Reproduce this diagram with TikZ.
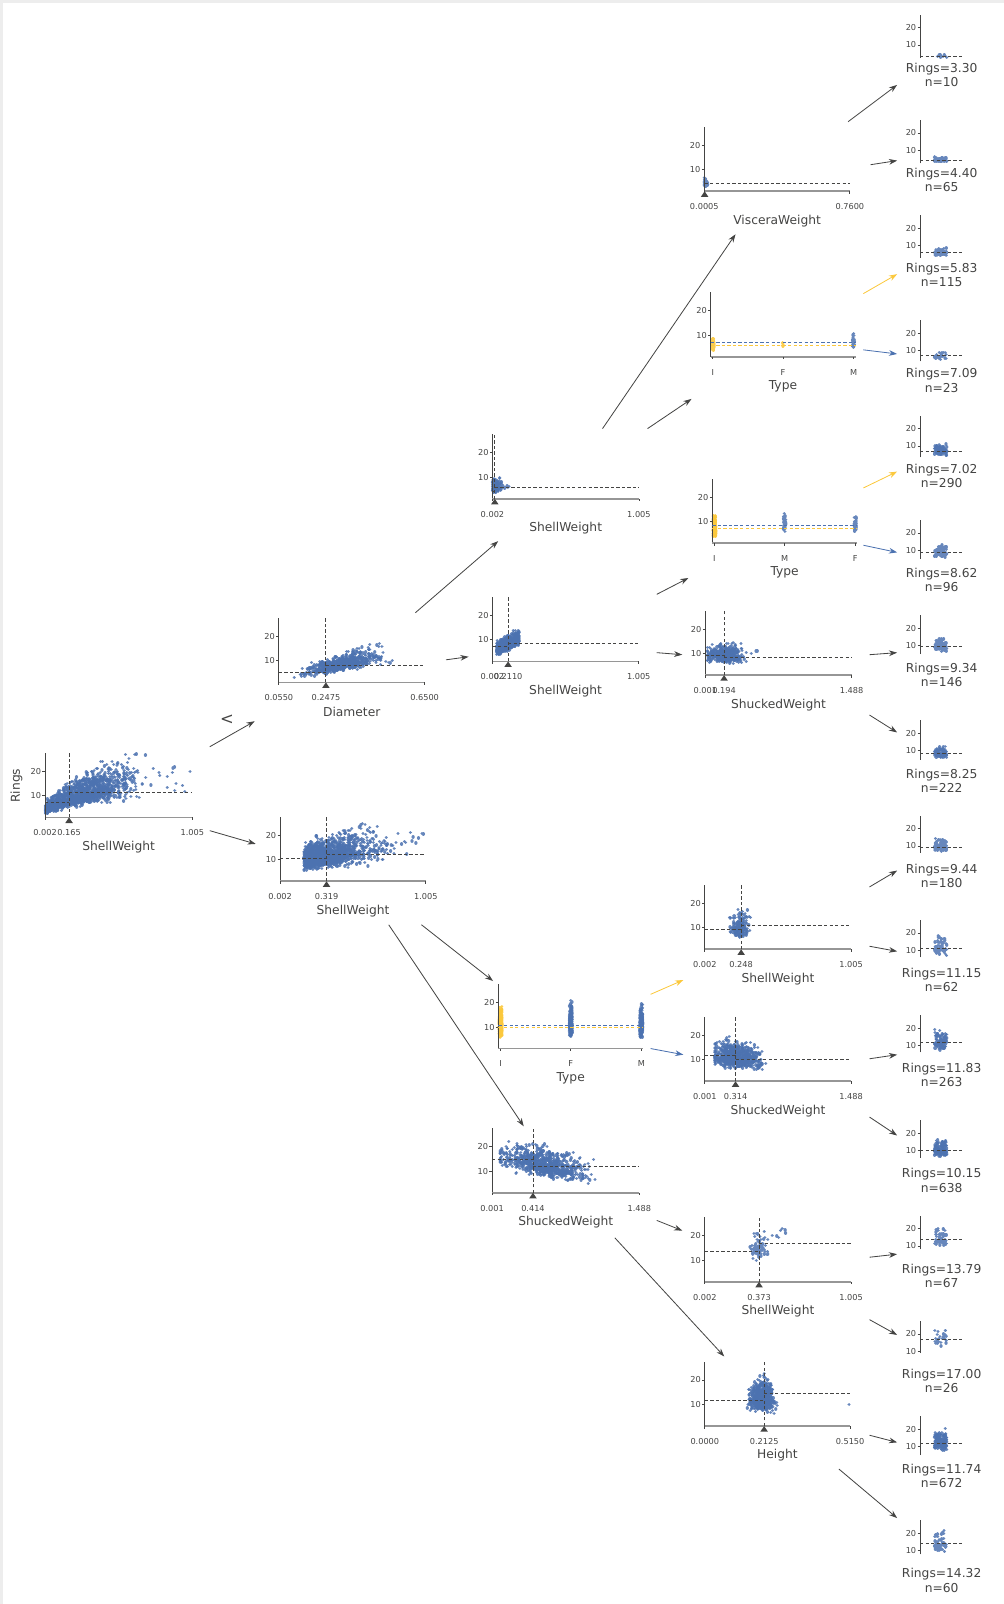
\documentclass[tikz,border=0pt]{standalone}
\usepackage{fontspec}
\setmainfont{DejaVu Sans}
\usepackage{xcolor}
\usepackage{tikz}
\usetikzlibrary{arrows.meta}

\definecolor{ptblue}{RGB}{76,114,176}
\definecolor{ptyellow}{RGB}{251,200,60}
\definecolor{txtgrey}{RGB}{68,68,67}
\definecolor{axgrey}{RGB}{150,150,150}

% scatter: #1 style, #2 points, #3 x offset, #4 value (may use \cx)
\newcommand{\cloud}[4][pt]{%
  \pgfmathtruncatemacro\nchunk{max(1,round(#2/80))}%
  \pgfmathtruncatemacro\nper{round(#2/\nchunk)}%
  \foreach \c in {1,...,\nchunk}{%
    \draw[#1] \foreach \k [evaluate={\k as \na using rand+rand+rand},
        evaluate={\k as \nb using rand+rand+rand},
        evaluate={\k as \nb using \nb+0.3*abs(\nb)},
        evaluate={\k as \cx using #3},
        evaluate={\k as \cv using #4}] in {1,...,\nper} {(\cx,\cv) -- ++(0.02,0)};}}

% id, width, split, left mean, right mean, low tick, split tick, high tick, feature
\newcommand{\splitaxes}[9]{%
  \draw[yax] (0,1.25) -- (0,27.5);
  \draw[xax] (0,1.25) -- (#2,1.25);
  \draw[yax] (0,1.25) -- (0,0.2) (#2,1.25) -- (#2,0.2);
  \foreach \t in {10,20}{\draw[yax] (-2.5,\t) -- (0,\t);
    \node[ticklbl,anchor=east] (#1-y\t) at (-3.5,\t) {\t};}
  \draw[meanline] (#3,1.25) -- (#3,27.5);
  \draw[meanline] (0,#4) -- (#3,#4);
  \draw[meanline] (#3,#5) -- (#2,#5);
  \fill[txtgrey] (#3,1.25) -- ++(-3.7,-2.3) -- ++(7.4,0) -- cycle;
  \node[ticklbl] (#1-t1) at (0,-5) {#6};
  \node[ticklbl] (#1-t2) at (#3,-5) {#7};
  \node[ticklbl] (#1-t3) at (#2,-5) {#8};
  \node[axlbl] (#1-lbl) at ({#2/2},-10.8) {#9};}

% id, categories, yellow mean, blue mean
\newcommand{\typeaxes}[6]{%
  \draw[yax] (0,1.25) -- (0,27.5);
  \draw[xax] (0,1.25) -- (141.5,1.25);
  \foreach \c in {2,70.6,139.6}{\draw[yax] (\c,1.25) -- (\c,0.2);}
  \foreach \t in {10,20}{\draw[yax] (-2.5,\t) -- (0,\t);
    \node[ticklbl,anchor=east] (#1-y\t) at (-3.5,\t) {\t};}
  \draw[meanline,draw=ptyellow] (0,#5) -- (141.5,#5);
  \draw[meanline,draw=ptblue] (0,#6) -- (141.5,#6);
  \node[ticklbl] (#1-c1) at (2,-5) {#2};
  \node[ticklbl] (#1-c2) at (70.6,-5) {#3};
  \node[ticklbl] (#1-c3) at (139.6,-5) {#4};
  \node[axlbl] (#1-lbl) at (70.6,-10.8) {Type};}

% id, mean, spread, points, lowest, n
\newcommand{\leafplot}[6]{%
  \begin{scope}[shift={(#1)},y={(0,0.85pt)}]
    \cloud{#4}{20+6*rand}{max(#5,min(27,#2+#3*\nb))}
    \draw[yax] (0,#5) -- (0,27.5);
    \foreach \t in {10,20}{\draw[yax] (-2.5,\t) -- (0,\t);
      \node[ticklbl,anchor=east] (#1-y\t) at (-3.5,\t) {\t};}
    \draw[meanline] (0,#2) -- (41,#2);
    \node[leaflbl] (#1-txt) at (21,-7.06) {Rings=#2\\n=#6};
  \end{scope}}

\begin{document}
\begin{tikzpicture}[x=0.5pt,y=-0.5pt]
        \tikzstyle{yax}=[draw=txtgrey,line width=0.4pt]
        \tikzstyle{xax}=[draw=axgrey,line width=0.8pt]
        \tikzstyle{meanline}=[draw=txtgrey,line width=0.45pt,dash pattern=on 1.6pt off 1.1pt]
        \tikzstyle{pt}=[draw=ptblue,draw opacity=0.85,line width=1.6pt,line cap=round]
        \tikzstyle{ptY}=[draw=ptyellow,draw opacity=0.9,line width=1.6pt,line cap=round]
        \tikzstyle{ticklbl}=[text=txtgrey,font=\fontsize{4}{4.8}\selectfont,inner sep=0pt]
        \tikzstyle{axlbl}=[text=txtgrey,font=\fontsize{6}{7.2}\selectfont,inner sep=0pt]
        \tikzstyle{leaflbl}=[text=txtgrey,font=\fontsize{6}{7}\selectfont,align=center,inner sep=0pt]
        \tikzstyle{edge}=[draw=txtgrey,line width=0.4pt,-{Stealth[length=4pt,width=2.8pt]}]

        \pgfmathsetseed{11}
        \useasboundingbox (0,0) rectangle (981,1568);
        \fill[black!7] (0,0) rectangle (981,3);
        \fill[black!7] (0,0) rectangle (2.5,1568);

        %% split nodes
        \coordinate (root) at (44,799);
        \coordinate (diam) at (272.6,667);
        \coordinate (swA) at (481.4,487.6);
        \coordinate (swB) at (481.4,646.5);
        \coordinate (visc) at (688.5,187);
        \coordinate (typeA) at (694.8,348.8);
        \coordinate (typeB) at (696.4,530.9);
        \coordinate (shkA) at (689.5,659.9);
        \coordinate (swC) at (273.9,861.5);
        \coordinate (typeC) at (487.3,1025);
        \coordinate (shkB) at (481,1166);
        \coordinate (swD) at (689,928);
        \coordinate (shkC) at (689,1057);
        \coordinate (swE) at (689,1253);
        \coordinate (hgt) at (689,1394);

        \begin{scope}[shift={(root)},yshift=-1.5pt,y={(0,1.2pt)}]
            \cloud{1400}{min(143,max(0.5,143*abs(0.23+0.17*\na)))}{max(1.6,min(27,4.5+0.19*\cx-0.0007*\cx*\cx+(1.2+0.04*\cx)*\nb))}
            \cloud{14}{100+42*rnd}{16+6*rand}
            \splitaxes{root}{144}{23.5}{7.46}{11.2}{0.002}{0.165}{1.005}{ShellWeight}
        \end{scope}
        \node[axlbl,rotate=90] (rings) at (16,768) {Rings};

        \begin{scope}[shift={(diam)},yshift=-1.5pt,y={(0,1.2pt)}]
            \cloud{700}{min(112,max(6,60+17*\na))}{max(2,2.8+0.09*\cx+(0.7+0.014*\cx)*\nb)}
            \cloud{4}{104+10*rnd}{9.5+0.8*rand}
            \splitaxes{diam}{142.5}{46}{5.41}{8.04}{0.0550}{0.2475}{0.6500}{Diameter}
        \end{scope}

        \begin{scope}[shift={(swA)},yshift=-1.5pt,y={(0,1.2pt)}]
            \cloud{200}{abs(3+2.5*\na)}{max(2.5,min(11,6+1.3*\nb))}
            \cloud{5}{10+8*rnd}{6+0.6*rand}
            \splitaxes{swA}{143.2}{2.3}{4.25}{6.04}{0.002}{}{1.005}{ShellWeight}
        \end{scope}

        \begin{scope}[shift={(swB)},yshift=-1.5pt,y={(0,1.2pt)}]
            \cloud{700}{4+22*rnd}{max(4,min(16,5+0.2*\cx+1.4*\nb))}
            \splitaxes{swB}{143}{15.3}{7.42}{8.68}{0.002}{0.2110}{1.005}{ShellWeight}
        \end{scope}

        \begin{scope}[shift={(visc)},yshift=-1.5pt,y={(0,1.2pt)}]
            \cloud{75}{abs(1.3+0.9*\na)}{max(2,4.4+0.8*\nb)}
            \splitaxes{visc}{142.3}{0.3}{3.30}{4.40}{0.0005}{}{0.7600}{VisceraWeight}
        \end{scope}

        \begin{scope}[shift={(typeA)},yshift=-1.5pt,y={(0,1.2pt)}]
            \cloud[ptY]{115}{2+1.2*rand}{max(3.5,min(9.5,5.8+1.1*\nb))}
            \cloud[ptY]{6}{70.6+1*rand}{6+0.4*\nb}
            \cloud{23}{139.6+1.2*rand}{max(4,min(11.5,7.1+1.4*\nb))}
            \typeaxes{typeA}{I}{F}{M}{5.83}{7.09}
        \end{scope}

        \begin{scope}[shift={(typeB)},yshift=-1.5pt,y={(0,1.2pt)}]
            \cloud[ptY]{290}{2+1.2*rand}{max(3.5,min(14,7+1.7*\nb))}
            \cloud{55}{70.6+1.2*rand}{max(5,min(15,9+1.7*\nb))}
            \cloud{50}{139.6+1.2*rand}{max(5,min(12,8.2+1.4*\nb))}
            \typeaxes{typeB}{I}{M}{F}{7.02}{8.62}
        \end{scope}

        \begin{scope}[shift={(shkA)},yshift=-1.5pt,y={(0,1.2pt)}]
            \cloud{500}{min(40,max(2,19+8*\na))}{max(5,min(16.5,9+1.6*\nb))}
            \cloud{3}{43+8*rnd}{10.5+0.6*rand}
            \splitaxes{shkA}{143}{18.3}{9.34}{8.25}{0.001}{0.194}{1.488}{ShuckedWeight}
        \end{scope}

        \begin{scope}[shift={(swC)},yshift=-1.5pt,y={(0,1.2pt)}]
            \cloud{1400}{min(142,23+abs(32*\na))}{max(5,min(27,8.3+0.065*\cx+(1.8+0.022*\cx)*\nb))}
            \cloud{16}{90+50*rnd}{17+5*rand}
            \splitaxes{swC}{142.4}{45.3}{10.44}{12.26}{0.002}{0.319}{1.005}{ShellWeight}
        \end{scope}

        \begin{scope}[shift={(typeC)},yshift=-1.5pt,y={(0,1.2pt)}]
            \cloud[ptY]{340}{2+1.3*rand}{max(5.5,min(21,9.9+2.4*\nb))}
            \cloud{340}{70.6+1.3*rand}{max(6,min(23,10.8+2.7*\nb))}
            \cloud{340}{139.6+1.3*rand}{max(6,min(23,10.5+2.7*\nb))}
            \typeaxes{typeC}{I}{F}{M}{9.88}{10.64}
        \end{scope}

        \begin{scope}[shift={(shkB)},yshift=-1.5pt,y={(0,1.2pt)}]
            \cloud{820}{min(118,max(8,50+19*\na))}{max(5,min(26,16.5-0.085*\cx+2.6*\nb))}
            \cloud{2}{6+113*rnd}{9+2*rand}
            \splitaxes{shkB}{144}{40}{14.69}{11.95}{0.001}{0.414}{1.488}{ShuckedWeight}
        \end{scope}

        \begin{scope}[shift={(swD)},yshift=-1.5pt,y={(0,1.2pt)}]
            \cloud{240}{min(46,max(22,34+4*\na))}{max(6,min(23,9.9+2.3*\nb))}
            \splitaxes{swD}{143}{35.5}{9.44}{11.15}{0.002}{0.248}{1.005}{ShellWeight}
        \end{scope}

        \begin{scope}[shift={(shkC)},yshift=-1.5pt,y={(0,1.2pt)}]
            \cloud{880}{max(10,min(72,30+11*\na))}{max(6,min(25,11.8-0.045*\cx+2.4*\nb))}
            \splitaxes{shkC}{143}{30}{11.83}{10.15}{0.001}{0.314}{1.488}{ShuckedWeight}
        \end{scope}

        \begin{scope}[shift={(swE)},yshift=-1.5pt,y={(0,1.2pt)}]
            \cloud{85}{max(42,52+3.5*\na)}{max(8,min(24,14.5+2.6*\nb))}
            \cloud{7}{60+22*rnd}{19.5+4*rand}
            \splitaxes{swE}{143}{53}{13.79}{17.00}{0.002}{0.373}{1.005}{ShellWeight}
        \end{scope}

        \begin{scope}[shift={(hgt)},yshift=-1.5pt,y={(0,1.2pt)}]
            \cloud{730}{min(72,max(33,56+5.5*\na))}{max(5,min(26,12+2.9*\nb))}
            \cloud{1}{141}{10}
            \splitaxes{hgt}{142}{58}{11.74}{14.32}{0.0000}{0.2125}{0.5150}{Height}
        \end{scope}

        %% leaves
        \foreach \i/\y in {1/61,2/164,3/257,4/360,5/453,6/555,7/648,8/751,
                9/844,10/946,11/1039,12/1142,13/1235,14/1338,15/1431,16/1533}
            \coordinate (leaf\i) at (899.5,\y);

        \leafplot{leaf1}{3.30}{0.5}{10}{2.5}{10}
        \leafplot{leaf2}{4.40}{0.7}{65}{2.5}{65}
        \leafplot{leaf3}{5.83}{1.0}{100}{3}{115}
        \leafplot{leaf4}{7.09}{1.2}{23}{4}{23}
        \leafplot{leaf5}{7.02}{1.4}{140}{3.5}{290}
        \leafplot{leaf6}{8.62}{1.5}{80}{5}{96}
        \leafplot{leaf7}{9.34}{1.7}{110}{5}{146}
        \leafplot{leaf8}{8.25}{1.5}{130}{5}{222}
        \leafplot{leaf9}{9.44}{1.7}{110}{6}{180}
        \leafplot{leaf10}{11.15}{2.4}{55}{6}{62}
        \leafplot{leaf11}{11.83}{2.5}{140}{6}{263}
        \leafplot{leaf12}{10.15}{2.1}{200}{6}{638}
        \leafplot{leaf13}{13.79}{2.8}{60}{8}{67}
        \leafplot{leaf14}{17.00}{3.2}{26}{9}{26}
        \leafplot{leaf15}{11.74}{2.5}{210}{5}{672}
        \leafplot{leaf16}{14.32}{3.0}{60}{8}{60}

        %% edge end points
        \coordinate (root-lo) at (205,730);
        \coordinate (root-hi) at (205,812);
        \coordinate (diam-in) at (249,705);
        \coordinate (swC-in) at (250,825);
        \coordinate (diam-lo) at (406,599);
        \coordinate (diam-hi) at (436,645);
        \coordinate (swA-in) at (487,529);
        \coordinate (swB-in) at (458,642);
        \coordinate (swA-lo) at (589,419);
        \coordinate (swA-hi) at (633,419);
        \coordinate (visc-in) at (719,229);
        \coordinate (typeA-in) at (676,390);
        \coordinate (swB-lo) at (642,581);
        \coordinate (swB-hi) at (642,638);
        \coordinate (typeB-in) at (673,565);
        \coordinate (shkA-in) at (667,640);
        \coordinate (visc-lo) at (829,119);
        \coordinate (visc-hi) at (851,161);
        \coordinate (typeA-lo) at (844,287);
        \coordinate (typeA-hi) at (844,342);
        \coordinate (typeB-lo) at (844,477);
        \coordinate (typeB-hi) at (844,533);
        \coordinate (shkA-lo) at (850,640);
        \coordinate (shkA-hi) at (850,699);
        \coordinate (swC-lo) at (412,904);
        \coordinate (swC-hi) at (380,904);
        \coordinate (typeC-in) at (482,959);
        \coordinate (shkB-in) at (512,1101);
        \coordinate (typeC-lo) at (636,972);
        \coordinate (typeC-hi) at (636,1025);
        \coordinate (swD-in) at (668,958);
        \coordinate (shkC-in) at (668,1031);
        \coordinate (swD-lo) at (850,867);
        \coordinate (swD-hi) at (850,925);
        \coordinate (shkC-lo) at (850,1035);
        \coordinate (shkC-hi) at (850,1092);
        \coordinate (shkB-lo) at (642,1193);
        \coordinate (shkB-hi) at (601,1210);
        \coordinate (swE-in) at (667,1203);
        \coordinate (hgt-in) at (708,1326);
        \coordinate (swE-lo) at (850,1229);
        \coordinate (swE-hi) at (850,1290);
        \coordinate (hgt-lo) at (850,1403);
        \coordinate (hgt-hi) at (820,1436);
        \foreach \i/\y in {1/83,2/157,3/268,4/346,5/461,6/540,7/638,8/716,
                9/851,10/930,11/1031,12/1110,13/1226,14/1305,15/1410,16/1484}
            \coordinate (leaf\i-in) at (877,\y);

        %% edges
        \foreach \a/\b in {root-lo/diam-in,root-hi/swC-in,diam-lo/swA-in,diam-hi/swB-in,
                swA-lo/visc-in,swA-hi/typeA-in,swB-lo/typeB-in,swB-hi/shkA-in,
                visc-lo/leaf1-in,visc-hi/leaf2-in,shkA-lo/leaf7-in,shkA-hi/leaf8-in,
                swC-lo/typeC-in,swC-hi/shkB-in,swD-lo/leaf9-in,swD-hi/leaf10-in,
                shkC-lo/leaf11-in,shkC-hi/leaf12-in,shkB-lo/swE-in,shkB-hi/hgt-in,
                swE-lo/leaf13-in,swE-hi/leaf14-in,hgt-lo/leaf15-in,hgt-hi/leaf16-in}
            \draw[edge] (\a) -- (\b);
        \foreach \a/\b in {typeA-lo/leaf3-in,typeB-lo/leaf5-in,typeC-lo/swD-in}
            \draw[edge,draw=ptyellow] (\a) -- (\b);
        \foreach \a/\b in {typeA-hi/leaf4-in,typeB-hi/leaf6-in,typeC-hi/shkC-in}
            \draw[edge,draw=ptblue] (\a) -- (\b);

        \node[text=txtgrey,font=\fontsize{8}{9}\selectfont,inner sep=0pt] (lt) at (222,704) {<};
    \end{tikzpicture}
\end{document}
